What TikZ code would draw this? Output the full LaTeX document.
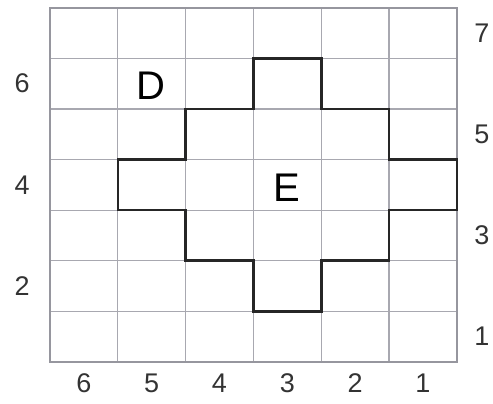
\documentclass[tikz,border=0pt]{standalone}
\usepackage{fontspec}
\setmainfont{Liberation Sans}
\usepackage{xcolor}
\usepackage{tikz}
\usetikzlibrary{positioning}
\definecolor{gridgray}{RGB}{168,168,176}
\definecolor{framegray}{RGB}{150,150,158}

\begin{document}
\begin{tikzpicture}[
  x=67.8pt, y=50.6pt,
  gridline/.style={draw=gridgray, line width=1.2pt},
  frameline/.style={draw=framegray, line width=1.8pt},
  outline/.style={draw=black!85, line width=2.6pt, line join=miter},
  region/.style={font=\fontsize{40}{40}\selectfont, inner sep=0pt},
  axislbl/.style={font=\fontsize{27}{27}\selectfont, text=black!80, inner sep=0pt}
]
\useasboundingbox (-50pt,-42pt) rectangle (443pt,362pt);
\draw[gridline] (0,0) grid[step=1] (6,7);
\draw[frameline] (0,0) rectangle (6,7);

\draw[outline] (3,6) -- (4,6) -- (4,5) -- (5,5) -- (5,4) -- (6,4) -- (6,3)
  -- (5,3) -- (5,2) -- (4,2) -- (4,1) -- (3,1) -- (3,2) -- (2,2) -- (2,3)
  -- (1,3) -- (1,4) -- (2,4) -- (2,5) -- (3,5) -- cycle;

\node[region] (lblD) at (1.49,5.45) {D};
\node[region] (lblE) at (3.5,3.45) {E};

\node[axislbl] (row6) at (-0.41,5.5) {6};
\node[axislbl] (row4) at (-0.41,3.5) {4};
\node[axislbl] (row2) at (-0.41,1.5) {2};
\node[axislbl] (row7) at (6.37,6.5) {7};
\node[axislbl] (row5) at (6.37,4.5) {5};
\node[axislbl] (row3) at (6.37,2.5) {3};
\node[axislbl] (row1) at (6.37,0.5) {1};

\node[axislbl] (col6) at (0.5,-0.42) {6};
\node[axislbl] (col5) at (1.5,-0.42) {5};
\node[axislbl] (col4) at (2.5,-0.42) {4};
\node[axislbl] (col3) at (3.5,-0.42) {3};
\node[axislbl] (col2) at (4.5,-0.42) {2};
\node[axislbl] (col1) at (5.5,-0.42) {1};
\end{tikzpicture}
\end{document}
